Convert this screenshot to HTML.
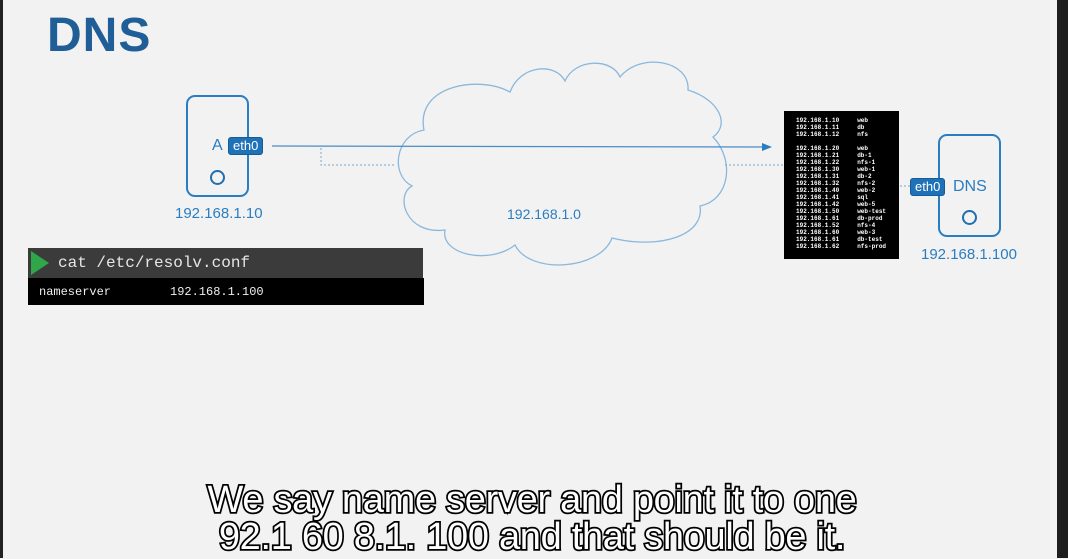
<!DOCTYPE html>
<html><head><meta charset="utf-8"><style>
html,body{margin:0;padding:0}
body{width:1068px;height:558px;position:relative;overflow:hidden;background:#f2f2f2;font-family:"Liberation Sans",sans-serif}
.abs{position:absolute}
.box{position:absolute;border:2px solid #2a7dc0;border-radius:9px;box-sizing:border-box}
.eth{position:absolute;background:#1f72b8;color:#fff;font-size:13px;line-height:16px;padding:0 4px;border-radius:3px;border:1px solid #175a94}
.blue{color:#2a7dc0}
.circ{position:absolute;width:11px;height:11px;border:2px solid #1f6fb0;border-radius:50%}
pre{margin:0}
.sub{position:absolute;left:0;width:1064px;text-align:center;font-family:"Liberation Sans",sans-serif;font-size:38px;color:#fff;-webkit-text-stroke:3.5px #000;paint-order:stroke fill;letter-spacing:-0.3px}
</style></head><body>
<div class="abs" style="left:0;top:0;width:3px;height:558px;background:#222"></div>
<div class="abs" style="left:1057px;top:0;width:11px;height:558px;background:#1e1e1e"></div>
<div class="abs" style="left:47px;top:8px;font-size:48px;font-weight:bold;color:#1f5e96;letter-spacing:1px">DNS</div>

<svg class="abs" style="left:0;top:0" width="1068" height="558">
<path d="M424,130 C415,85 480,75 510,92 C520,65 555,62 565,81 C575,58 612,58 620,77 C640,52 690,60 688,90 C720,100 730,125 713,137 C735,160 730,200 700,206 C705,235 660,250 612,238 C600,270 530,275 515,245 C490,265 440,255 445,230 C405,235 395,195 412,186 C390,175 395,135 424,130 Z" fill="none" stroke="#8ab8dc" stroke-width="1.3"/>
<line x1="272" y1="146" x2="765" y2="147" stroke="#4a8cc6" stroke-width="1.2"/>
<polygon points="772,147 762,143 762,151" fill="#2a7dc0"/>
<polyline points="321,148 321,165 395,165" fill="none" stroke="#7aa7cc" stroke-width="1" stroke-dasharray="2,2"/>
<line x1="725" y1="165" x2="784" y2="165" stroke="#7aa7cc" stroke-width="1" stroke-dasharray="2,2"/>
<line x1="820" y1="186" x2="912" y2="186" stroke="#7aa7cc" stroke-width="1" stroke-dasharray="2,2"/>
</svg>

<div class="box" style="left:186px;top:95px;width:63px;height:102px"></div>
<div class="abs blue" style="left:212px;top:137px;font-size:16px">A</div>
<div class="eth" style="left:228px;top:137px">eth0</div>
<div class="circ" style="left:210px;top:170px"></div>
<div class="abs blue" style="left:175px;top:205px;font-size:15px">192.168.1.10</div>

<div class="abs blue" style="left:507px;top:206px;font-size:14px">192.168.1.0</div>

<div class="abs" style="left:784px;top:111px;width:115px;height:148px;background:#000"></div>
<pre class="abs" style="left:796px;top:117px;color:#fff;font-family:'Liberation Mono',monospace;font-size:6px;line-height:7px;font-weight:bold">192.168.1.10     web
192.168.1.11     db
192.168.1.12     nfs

192.168.1.20     web
192.168.1.21     db-1
192.168.1.22     nfs-1
192.168.1.30     web-1
192.168.1.31     db-2
192.168.1.32     nfs-2
192.168.1.40     web-2
192.168.1.41     sql
192.168.1.42     web-5
192.168.1.50     web-test
192.168.1.61     db-prod
192.168.1.52     nfs-4
192.168.1.60     web-3
192.168.1.61     db-test
192.168.1.62     nfs-prod</pre>

<div class="box" style="left:938px;top:134px;width:63px;height:103px"></div>
<div class="eth" style="left:910px;top:178px">eth0</div>
<div class="abs blue" style="left:953px;top:178px;font-size:16px">DNS</div>
<div class="circ" style="left:962px;top:210px"></div>
<div class="abs blue" style="left:921px;top:246px;font-size:15px">192.168.1.100</div>

<div class="abs" style="left:28px;top:248px;width:395px;height:30px;background:#3b3b3b"></div>
<div class="abs" style="left:31px;top:251px;width:0;height:0;border-top:12px solid transparent;border-bottom:12px solid transparent;border-left:18px solid #2fa64a"></div>
<div class="abs" style="left:58px;top:254px;color:#e6e6e6;font-family:'Liberation Mono',monospace;font-size:16px">cat /etc/resolv.conf</div>
<div class="abs" style="left:28px;top:278px;width:396px;height:27px;background:#000"></div>
<div class="abs" style="left:39px;top:285px;color:#eee;font-family:'Liberation Mono',monospace;font-size:12px">nameserver</div>
<div class="abs" style="left:170px;top:285px;color:#eee;font-family:'Liberation Mono',monospace;font-size:12px">192.168.1.100</div>

<div class="sub" style="top:479px">We say name server and point it to one</div>
<div class="sub" style="top:516px">92.1 60 8.1. 100 and that should be it.</div>
</body></html>
